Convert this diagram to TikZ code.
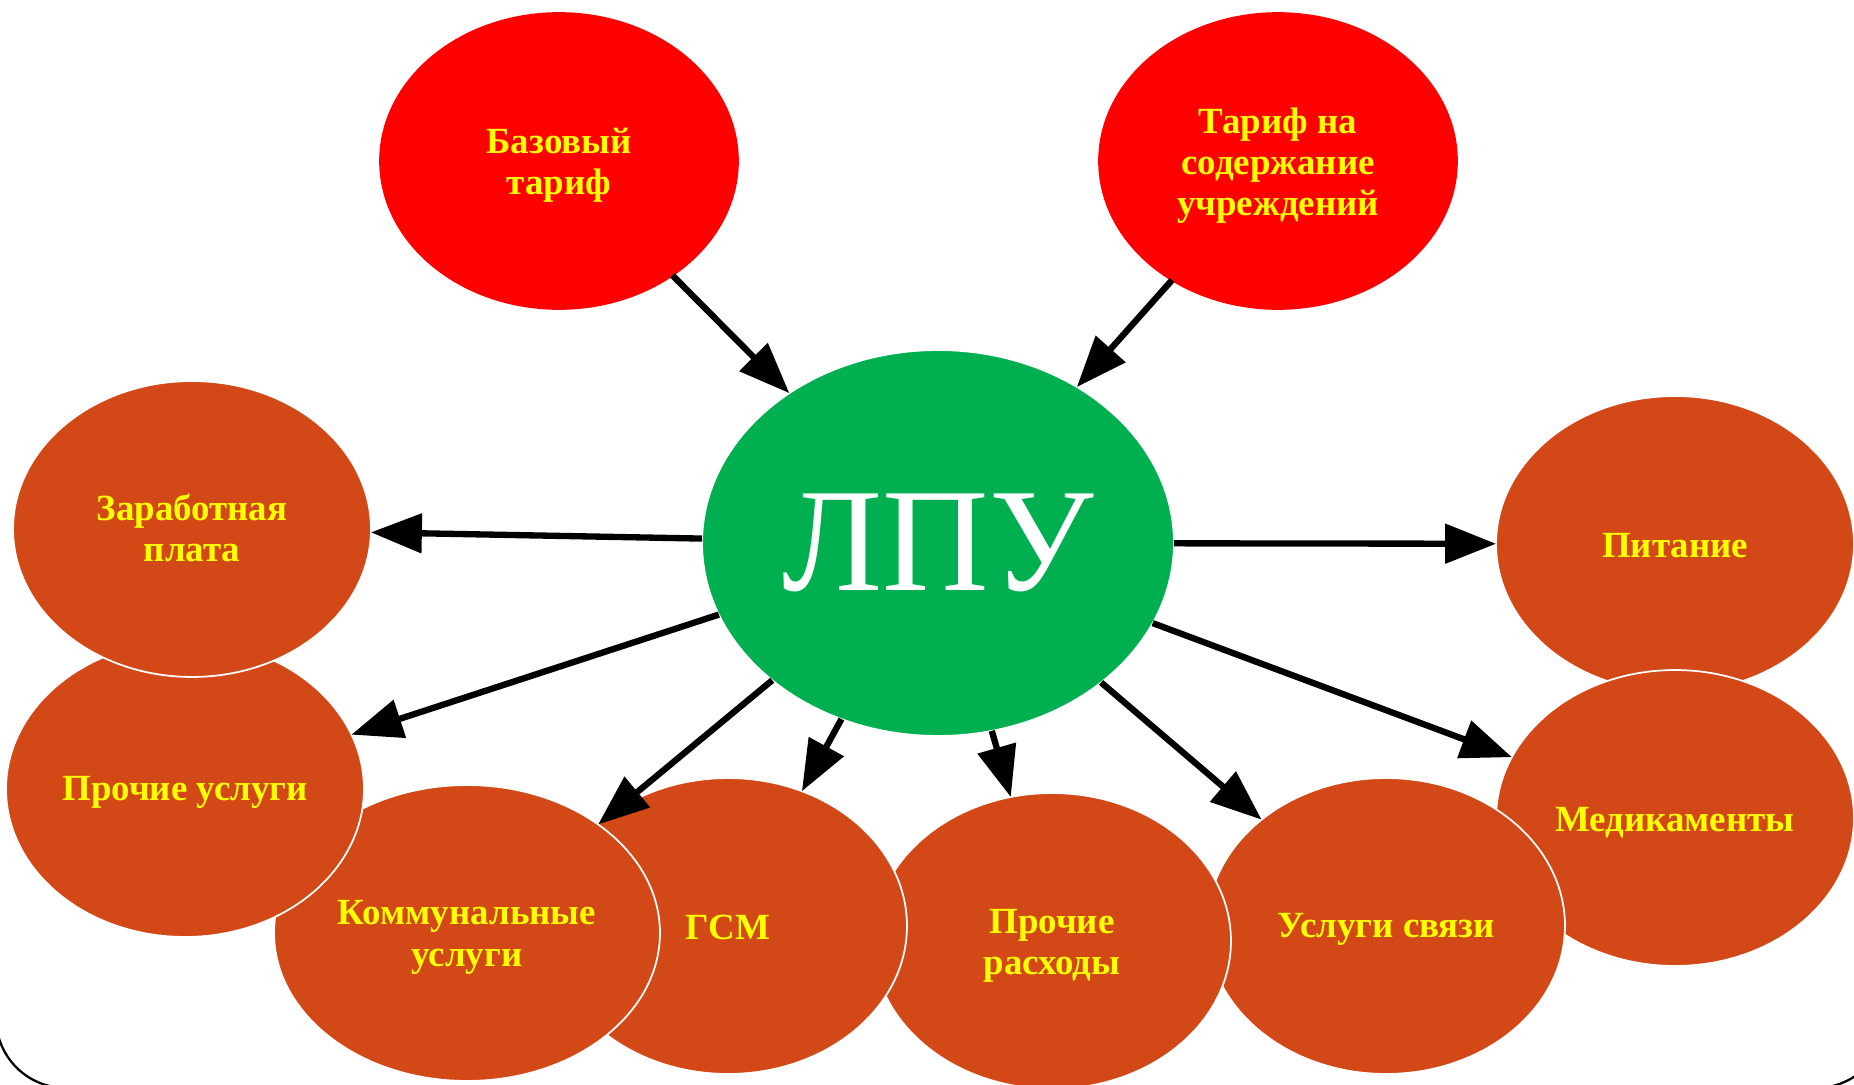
\documentclass[tikz,border=0pt]{standalone}
\usepackage{fontspec}
\setmainfont{Liberation Serif}
\usetikzlibrary{shapes.geometric,arrows.meta}
\definecolor{redfill}{HTML}{FF0000}
\definecolor{greenfill}{HTML}{00B050}
\definecolor{orangefill}{HTML}{D34817}
\definecolor{labelyellow}{HTML}{FFFF00}
\tikzset{
  blob/.style={ellipse, draw=white, line width=1pt, inner sep=0pt, outer sep=0pt,
    minimum width=7.16cm, minimum height=5.92cm},
  topblob/.style={blob, fill=redfill, draw=redfill},
  costblob/.style={blob, fill=orangefill},
  lbl/.style={align=center, text=labelyellow, inner sep=0pt,
    font=\bfseries\fontsize{21}{23.5}\selectfont},
  hub/.style={ellipse, fill=greenfill, draw=white, line width=1pt, inner sep=0pt, outer sep=0pt,
    text=white, font=\fontsize{84}{90}\selectfont,
    minimum width=9.44cm, minimum height=7.72cm},
  flow/.style={line width=3.6pt, -{Triangle[length=29pt,width=22pt]}}
}
\begin{document}
\begin{tikzpicture}[x=0.02cm,y=-0.02cm]
\useasboundingbox (0,0) rectangle (1854,1085);
\clip (0,0) rectangle (1854,1085);
\fill[white] (0,0) rectangle (1854,1085);
\draw[line width=1.3pt, rounded corners=1.4cm] (-4,-300) rectangle (1886,1088);

\node[topblob] (base) at (559,161) {};
\node[topblob] (tarif) at (1278,161) {};
\node[hub] (lpu) at (938,543) {ЛПУ};

\node[costblob] (pit) at (1675,544) {};
\node[costblob] (med) at (1675,818) {};
\node[costblob] (svyaz) at (1386,926) {};
\node[costblob] (rash) at (1052,941) {};
\node[costblob] (gsm) at (728,926) {};
\node[costblob, minimum width=7.72cm] (komm) at (467,933) {};
\node[costblob] (usl) at (185,789) {};
\node[costblob] (zarp) at (192,529) {};

\node[lbl] (baset) at ([yshift=-2.6pt]base.center) {Базовый\\тариф};
\node[lbl] (tarift) at ([yshift=-2.6pt]tarif.center) {Тариф на\\содержание\\учреждений};
\node[lbl] (pitt) at ([yshift=-0.8pt]pit.center) {Питание};
\node[lbl] (medt) at ([yshift=-2.4pt]med.center) {Медикаменты};
\node[lbl] (svyazt) at ([yshift=-2pt]svyaz.center) {Услуги связи};
\node[lbl] (rasht) at ([yshift=-2.8pt]rash.center) {Прочие\\расходы};
\node[lbl] (gsmt) at ([yshift=-0.8pt]gsm.center) {ГСМ};
\node[lbl] (kommt) at ([yshift=-2.5pt]komm.center) {Коммунальные\\услуги};
\node[lbl] (uslt) at ([yshift=-2pt]usl.center) {Прочие услуги};
\node[lbl] (zarpt) at ([yshift=0.6pt]zarp.center) {Заработная\\плата};

\draw[flow] (base) -- (lpu);
\draw[flow] (tarif) -- (lpu);
\draw[flow] (lpu) -- (zarp);
\draw[flow] (lpu) -- (pit);
\draw[flow] (lpu) -- (usl);
\draw[flow] (lpu) -- (komm);
\draw[flow] (lpu) -- (gsm);
\draw[flow] (lpu) -- (rash);
\draw[flow] (lpu) -- (svyaz);
\draw[flow] (lpu) -- (med);
\end{tikzpicture}
\end{document}
